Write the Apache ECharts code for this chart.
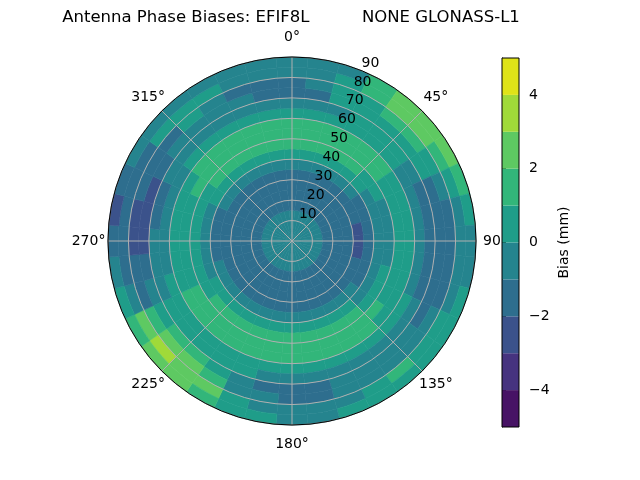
<!DOCTYPE html>
<html><head><meta charset="utf-8">
<script src="https://cdn.jsdelivr.net/npm/echarts@6/dist/echarts.min.js"></script>
<style>html,body{margin:0;padding:0;background:#fff}#c{width:640px;height:480px}</style>
</head><body><div id="c"></div>
<script>
const titleText = 'Antenna Phase Biases: EFIF8L          NONE GLONASS-L1';
const colorbarName = 'Bias (mm)';
// azimuth cell centres (deg, clockwise from north)
const azimuths = [0,10,20,30,40,50,60,70,80,90,100,110,120,130,140,150,160,170,
                  180,190,200,210,220,230,240,250,260,270,280,290,300,310,320,330,340,350];
// zenith bin edges (deg)
const zenithEdges = [0,5,10,15,20,25,30,35,40,45,50,55,60,65,70,75,80,85,90];
// bias (mm) per azimuth row, per zenith bin
const bias = [
 [-0.5,-0.5,-0.5,-1.5,-1.5,-1.5,-1.5,-0.5, 0.5, 1.5, 1.5, 1.5, 0.5,-0.5,-1.5,-1.5,-0.5,-0.5], // 0
 [-0.5,-0.5,-0.5,-1.5,-1.5,-1.5,-1.5,-0.5, 0.5, 1.5, 1.5, 1.5, 0.5,-0.5,-1.5,-0.5,-0.5,-0.5], // 10
 [-0.5,-0.5,-0.5,-1.5,-1.5,-1.5,-1.5,-0.5, 0.5, 1.5, 1.5, 1.5, 0.5,-0.5, 0.5, 0.5, 0.5,-0.5], // 20
 [-0.5,-0.5,-0.5,-1.5,-1.5,-1.5,-1.5,-0.5, 0.5, 1.5, 1.5, 1.5, 0.5, 0.5, 0.5, 0.5, 1.5, 1.5], // 30
 [-0.5,-0.5,-0.5,-1.5,-1.5,-1.5,-1.5,-0.5, 0.5, 1.5, 1.5, 1.5, 0.5, 0.5, 0.5, 1.5, 2.5, 2.5], // 40
 [-0.5,-0.5,-0.5,-1.5,-1.5,-1.5,-1.5,-0.5, 0.5, 0.5, 1.5, 1.5, 0.5, 0.5, 0.5, 1.5, 2.5, 2.5], // 50
 [-0.5,-0.5,-0.5,-1.5,-1.5,-1.5,-1.5,-1.5,-0.5, 0.5, 0.5, 0.5,-0.5,-0.5, 0.5, 0.5, 1.5, 2.5], // 60
 [-0.5,-0.5,-0.5,-1.5,-1.5,-1.5,-1.5,-1.5,-0.5,-0.5, 0.5, 0.5,-0.5,-1.5,-1.5,-0.5, 0.5, 1.5], // 70
 [-0.5,-0.5,-0.5,-1.5,-1.5,-1.5,-2.5,-1.5,-0.5,-0.5, 0.5, 0.5,-0.5,-1.5,-1.5,-1.5,-0.5, 0.5], // 80
 [-0.5,-0.5,-0.5,-1.5,-1.5,-1.5,-2.5,-1.5,-0.5,-0.5, 0.5, 0.5,-0.5,-1.5,-1.5,-1.5,-0.5,-0.5], // 90
 [-0.5,-0.5,-0.5,-1.5,-1.5,-1.5,-2.5,-1.5,-0.5,-0.5, 0.5, 0.5,-0.5,-1.5,-1.5,-1.5,-0.5,-0.5], // 100
 [-0.5,-0.5,-0.5,-1.5,-1.5,-1.5,-1.5,-1.5,-0.5, 0.5, 0.5, 0.5,-0.5,-1.5,-1.5,-1.5,-0.5, 0.5], // 110
 [-0.5,-0.5,-0.5,-1.5,-1.5,-1.5,-1.5,-1.5,-0.5, 0.5, 0.5, 0.5, 0.5,-0.5,-1.5,-0.5, 0.5, 0.5], // 120
 [-0.5,-0.5,-0.5,-1.5,-1.5,-1.5,-1.5,-0.5,-0.5, 0.5, 1.5, 0.5, 0.5,-0.5,-0.5,-0.5, 0.5, 0.5], // 130
 [-0.5,-0.5,-0.5,-1.5,-1.5,-1.5,-1.5,-0.5, 0.5, 1.5, 1.5, 1.5, 0.5,-0.5,-0.5,-0.5, 1.5, 0.5], // 140
 [-0.5,-0.5,-0.5,-1.5,-1.5,-1.5,-1.5,-0.5, 0.5, 1.5, 1.5, 1.5, 0.5,-0.5,-0.5,-0.5, 0.5, 0.5], // 150
 [-0.5,-0.5,-0.5,-1.5,-1.5,-1.5,-1.5,-0.5, 0.5, 1.5, 1.5, 1.5, 0.5,-0.5,-0.5,-0.5,-0.5, 0.5], // 160
 [-0.5,-0.5,-0.5,-1.5,-1.5,-1.5,-1.5,-0.5, 0.5, 1.5, 1.5, 1.5, 0.5,-0.5,-1.5,-1.5,-0.5,-0.5], // 170
 [-0.5,-0.5,-0.5,-1.5,-1.5,-1.5,-1.5,-0.5, 0.5, 1.5, 1.5, 1.5, 0.5,-0.5,-1.5,-1.5,-0.5,-0.5], // 180
 [-0.5,-0.5,-0.5,-1.5,-1.5,-1.5,-1.5,-0.5, 0.5, 1.5, 1.5, 1.5, 0.5,-0.5,-1.5,-0.5,-0.5, 0.5], // 190
 [-0.5,-0.5,-0.5,-1.5,-1.5,-1.5,-1.5,-0.5, 0.5, 1.5, 1.5, 1.5, 0.5, 0.5,-0.5,-0.5, 0.5, 0.5], // 200
 [-0.5,-0.5,-0.5,-1.5,-1.5,-1.5,-1.5,-0.5, 0.5, 1.5, 1.5, 1.5, 0.5, 0.5, 0.5, 1.5, 2.5, 1.5], // 210
 [-0.5,-0.5,-0.5,-1.5,-1.5,-1.5,-1.5,-0.5, 0.5, 1.5, 1.5, 1.5, 0.5, 0.5, 1.5, 2.5, 2.5, 2.5], // 220
 [-0.5,-0.5,-0.5,-1.5,-1.5,-1.5,-1.5,-0.5, 0.5, 1.5, 1.5, 1.5, 0.5, 0.5, 1.5, 2.5, 3.5, 2.5], // 230
 [-0.5,-0.5,-0.5,-1.5,-1.5,-1.5,-1.5,-0.5, 0.5, 0.5, 1.5, 1.5, 0.5, 0.5, 0.5, 1.5, 2.5, 1.5], // 240
 [-0.5,-0.5,-0.5,-1.5,-1.5,-1.5,-1.5,-0.5,-0.5, 0.5, 0.5, 0.5, 0.5,-0.5,-0.5,-1.5,-0.5, 0.5], // 250
 [-0.5,-0.5,-0.5,-1.5,-1.5,-1.5,-1.5,-1.5,-0.5, 0.5, 0.5, 0.5,-0.5,-0.5,-1.5,-1.5,-1.5,-0.5], // 260
 [-0.5,-0.5,-0.5,-1.5,-1.5,-1.5,-1.5,-1.5,-0.5, 0.5, 0.5, 0.5,-0.5,-0.5,-2.5,-2.5,-1.5,-1.5], // 270
 [-0.5,-0.5,-0.5,-1.5,-1.5,-1.5,-1.5,-1.5,-0.5, 0.5, 0.5, 0.5,-0.5,-1.5,-2.5,-2.5,-1.5,-2.5], // 280
 [-0.5,-0.5,-0.5,-1.5,-1.5,-1.5,-1.5,-1.5,-0.5, 0.5, 0.5, 0.5,-0.5,-1.5,-2.5,-1.5,-1.5,-1.5], // 290
 [-0.5,-0.5,-0.5,-1.5,-1.5,-1.5,-1.5,-0.5, 0.5, 0.5, 1.5, 0.5,-0.5,-0.5,-1.5,-1.5,-1.5,-0.5], // 300
 [-0.5,-0.5,-0.5,-1.5,-1.5,-1.5,-1.5,-0.5, 0.5, 1.5, 1.5, 1.5, 0.5,-0.5,-0.5,-1.5, 0.5,-0.5], // 310
 [-0.5,-0.5,-0.5,-1.5,-1.5,-1.5,-1.5,-0.5, 0.5, 1.5, 1.5, 1.5, 0.5,-0.5,-0.5, 0.5, 0.5,-0.5], // 320
 [-0.5,-0.5,-0.5,-1.5,-1.5,-1.5,-1.5,-0.5, 0.5, 1.5, 1.5, 1.5, 0.5,-0.5,-0.5,-0.5, 0.5,-0.5], // 330
 [-0.5,-0.5,-0.5,-1.5,-1.5,-1.5,-1.5,-0.5, 0.5, 1.5, 1.5, 1.5, 0.5,-0.5,-0.5,-1.5,-0.5,-0.5], // 340
 [-0.5,-0.5,-0.5,-1.5,-1.5,-1.5,-1.5,-0.5, 0.5, 1.5, 1.5, 1.5, 0.5,-0.5,-1.5,-1.5,-0.5,-0.5]  // 350
];
const levels = [-5,-4,-3,-2,-1,0,1,2,3,4,5];
const levelColors = ['#471365','#46337f','#3b528b','#2e6e8e','#25848e','#1f9d89','#32b67a','#5ec962','#a0da39','#dfe318'];
const angleTicks = [0,45,90,135,180,225,270,315];
const radiusTicks = [10,20,30,40,50,60,70,80,90];
const colorbarTicks = [-4,-2,0,2,4];

function colorFor(v){
  for (let i = 0; i < levels.length - 1; i++) {
    if (v >= levels[i] && v < levels[i+1]) return levelColors[i];
  }
  return v < levels[0] ? levelColors[0] : levelColors[levelColors.length-1];
}
const half = (azimuths[1]-azimuths[0])/2;
const cells = [];
azimuths.forEach((az, i) => {
  for (let j = 0; j < zenithEdges.length - 1; j++) {
    cells.push([zenithEdges[j], zenithEdges[j+1], az - half, az + half, bias[i][j]]);
  }
});
const cbData = levels.slice(0,-1).map((lo,i) => [0, 1, lo, levels[i+1], (lo+levels[i+1])/2]);
const FONT = 'DejaVu Sans';

function textItem(pt, str, dx, dy){
  return {type: 'text', x: pt[0] + dx, y: pt[1] + dy,
    style: {text: str, fill: '#000', fontSize: 14, fontFamily: FONT, align: 'center', verticalAlign: 'middle'}};
}

const chart = echarts.init(document.getElementById('c'), null, {renderer:'canvas'});
chart.setOption({
  animation: false,
  backgroundColor: '#fff',
  textStyle: {fontFamily: FONT},
  graphic: [{
    type: 'text', x: 291, y: 18, z: 100,
    style: {text: titleText, fontFamily: FONT, fontSize: 16.5, fill: '#000', textAlign: 'center', textVerticalAlign: 'middle'}
  }],
  polar: {center: [292, 241], radius: 184},
  angleAxis: {
    type: 'value', min: 0, max: 360, interval: 45, startAngle: 90, clockwise: true, z: 4,
    axisLine: {show: true, lineStyle: {color: '#000', width: 1}},
    axisTick: {show: false},
    axisLabel: {show: false},
    splitLine: {show: true, lineStyle: {color: '#b0b0b0', width: 1}}
  },
  radiusAxis: {
    type: 'value', min: 0, max: 90, interval: 10, z: 3,
    axisLine: {show: false}, axisTick: {show: false}, axisLabel: {show: false},
    splitLine: {show: true, lineStyle: {color: '#b0b0b0', width: 1}}
  },
  grid: {left: 502, top: 58, width: 17, height: 369, show: true, borderColor: '#000', borderWidth: 1, backgroundColor: 'rgba(0,0,0,0)', z: 10},
  xAxis: {type: 'value', min: 0, max: 1, show: false},
  yAxis: {
    type: 'value', min: -5, max: 5, position: 'right',
    axisLine: {show: true, lineStyle: {color: '#000'}},
    axisTick: {show: true, customValues: colorbarTicks, length: 4, lineStyle: {color: '#000'}},
    axisLabel: {show: true, customValues: colorbarTicks, margin: 10, color: '#000', fontSize: 14, fontFamily: FONT,
      formatter: v => String(v).replace('-', '\u2212')},
    splitLine: {show: false},
    name: colorbarName, nameLocation: 'middle', nameGap: 38, nameRotate: 90,
    nameTextStyle: {color: '#000', fontSize: 14, fontFamily: FONT}
  },
  series: [
    {
      type: 'custom', coordinateSystem: 'polar', z: 1, silent: true,
      data: cells,
      renderItem: function (params, api) {
        const r0 = api.value(0), r1 = api.value(1), a0 = api.value(2), a1 = api.value(3), v = api.value(4);
        const pts = []; const n = 6;
        for (let k = 0; k <= n; k++) pts.push(api.coord([r1, a0 + (a1 - a0) * k / n]));
        for (let k = n; k >= 0; k--) pts.push(api.coord([r0, a0 + (a1 - a0) * k / n]));
        const c = colorFor(v);
        return {type: 'polygon', shape: {points: pts}, style: {fill: c, stroke: c, lineWidth: 0.6}};
      }
    },
    {
      type: 'custom', coordinateSystem: 'polar', z: 20, silent: true, clip: false,
      data: radiusTicks.map(r => [r, 22.5]),
      renderItem: function (params, api) {
        return textItem(api.coord([api.value(0), api.value(1)]), String(api.value(0)), 8, -8);
      }
    },
    {
      type: 'custom', coordinateSystem: 'polar', z: 1.5, silent: true, clip: false,
      data: angleTicks.map(a => [99.5, a]),
      renderItem: function (params, api) {
        return textItem(api.coord([api.value(0), api.value(1)]), api.value(1) + '°', 0, 0);
      }
    },
    {
      type: 'custom', coordinateSystem: 'cartesian2d', z: 2, silent: true,
      data: cbData,
      encode: {x: [0, 1], y: [2, 3]},
      renderItem: function (params, api) {
        const p0 = api.coord([api.value(0), api.value(3)]);
        const p1 = api.coord([api.value(1), api.value(2)]);
        return {type: 'rect', shape: {x: p0[0], y: p0[1], width: p1[0] - p0[0], height: p1[1] - p0[1]},
          style: {fill: colorFor(api.value(4))}};
      }
    }
  ]
});
</script></body></html>
